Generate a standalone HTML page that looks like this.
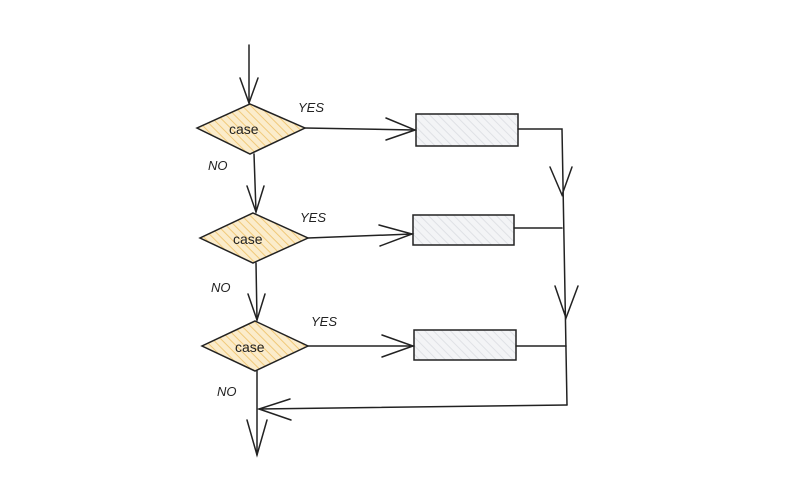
<!DOCTYPE html>
<html><head><meta charset="utf-8"><style>
html,body{margin:0;padding:0;background:#fff;}
svg{display:block}
text{font-family:"Liberation Sans",sans-serif;fill:#222;font-style:italic}
</style></head><body>
<svg width="786" height="492" viewBox="0 0 786 492" xmlns="http://www.w3.org/2000/svg">
<defs>
<pattern id="h1" width="6" height="6" patternUnits="userSpaceOnUse" patternTransform="rotate(-45)">
<rect width="6" height="6" fill="#fbeccb"/><line x1="0" y1="0" x2="0" y2="6" stroke="#f0c97a" stroke-width="2"/></pattern>
<pattern id="h2" width="6" height="6" patternUnits="userSpaceOnUse" patternTransform="rotate(-45)">
<rect width="6" height="6" fill="#f3f4f6"/><line x1="0" y1="0" x2="0" y2="6" stroke="#dfe1e5" stroke-width="2"/></pattern>
</defs>
<g stroke="#222" stroke-width="1.5" fill="none" stroke-linecap="round">
<!-- top arrow -->
<path d="M249 45 L249 103"/><path d="M240 78 L249 103 L258 78"/>
<!-- diamonds -->
<path d="M250 104 L305 128 L250 154 L197 128 Z" fill="url(#h1)"/>
<path d="M253 213 L308 238 L253 263 L200 238 Z" fill="url(#h1)"/>
<path d="M255 321 L308 346 L255 371 L202 346 Z" fill="url(#h1)"/>
<!-- rects -->
<rect x="416" y="114" width="102" height="32" fill="url(#h2)"/>
<rect x="413" y="215" width="101" height="30" fill="url(#h2)"/>
<rect x="414" y="330" width="102" height="30" fill="url(#h2)"/>
<!-- yes arrows -->
<path d="M305 128 L415 130"/><path d="M386 118 L415 130 L386 140"/>
<path d="M308 238 L412 234"/><path d="M379 225 L412 234 L380 246"/>
<path d="M308 346 L413 346"/><path d="M382 335 L413 346 L382 357"/>
<!-- no arrows -->
<path d="M254 154 L256 212"/><path d="M247 186 L256 212 L264 186"/>
<path d="M256 263 L257 320"/><path d="M248 294 L257 320 L265 294"/>
<path d="M257 371 L257 455"/><path d="M247 420 L257 455 L267 420"/>
<!-- right side -->
<path d="M518 129 L562 129 L567 405"/>
<path d="M550 167 L562 195 L572 167"/>
<path d="M555 286 L566 318 L578 286"/>
<path d="M514 228 L562 228"/>
<path d="M516 346 L566 346"/>
<path d="M567 405 L259 409"/><path d="M290 399 L259 409 L291 420"/>
</g>
<g font-size="14" style="font-style:normal">
<text x="229" y="134" style="font-style:normal">case</text>
<text x="233" y="244" style="font-style:normal">case</text>
<text x="235" y="352" style="font-style:normal">case</text>
</g>
<g font-size="13">
<text x="298" y="112">YES</text>
<text x="300" y="222">YES</text>
<text x="311" y="326">YES</text>
<text x="208" y="170">NO</text>
<text x="211" y="292">NO</text>
<text x="217" y="396">NO</text>
</g>
</svg>
</body></html>
